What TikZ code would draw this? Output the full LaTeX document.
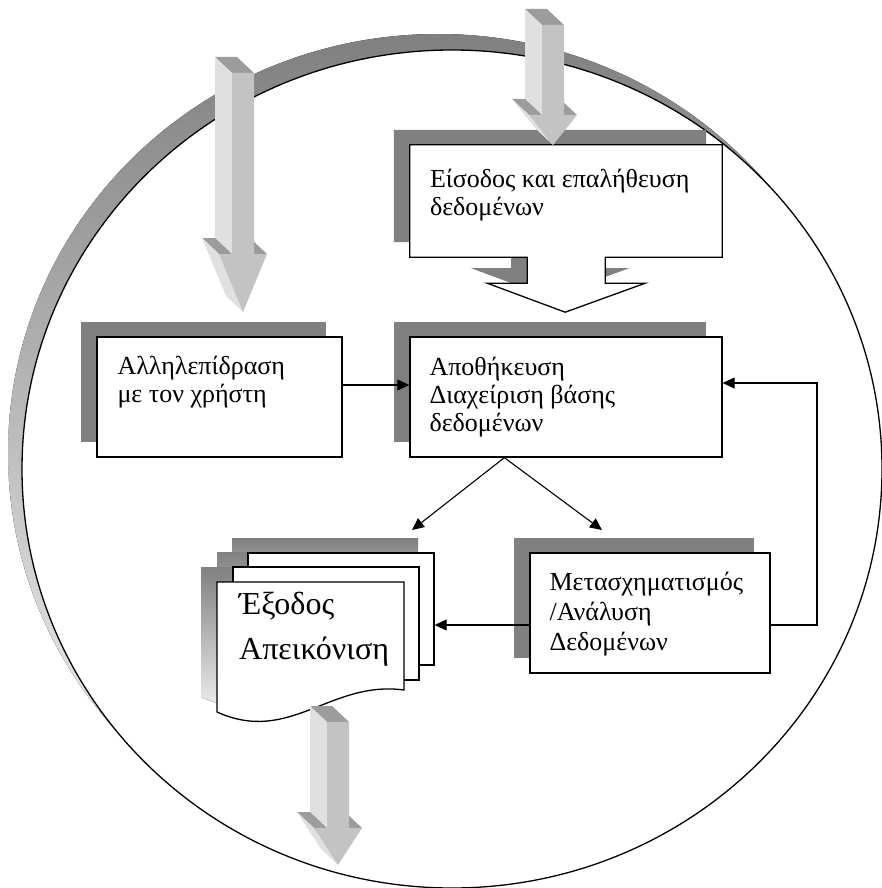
\documentclass[tikz,border=0pt]{standalone}
\usepackage{fontspec}
\setmainfont{Liberation Serif}
\usetikzlibrary{arrows.meta,positioning,calc,shadows}

\definecolor{shade}{HTML}{808080}
\definecolor{bartop}{HTML}{9C9C9C}
\definecolor{barside}{HTML}{E0E0E0}
\definecolor{barfront}{HTML}{C3C3C3}

% 3D block arrow: shaft left x, top y, neck y, tip y
\newcommand{\blockarrow}[4]{%
\fill[bartop] (#1-17,#2-16) -- (#1+5,#2-16) -- (#1+22,#2) -- (#1,#2) -- cycle;
\fill[barside] (#1-17,#2-16) -- (#1,#2) -- (#1,#3) -- (#1-17,#3-16) -- cycle;
\fill[bartop] (#1-30,#3-16) -- (#1-17,#3-16) -- (#1,#3) -- (#1-13,#3) -- cycle;
\fill[bartop] (#1+5,#3-16) -- (#1+18,#3-16) -- (#1+35,#3) -- (#1+22,#3) -- cycle;
\fill[barside] (#1-30,#3-16) -- (#1-13,#3) -- (#1+11,#4) -- (#1-6,#4-16) -- cycle;
\fill[barfront] (#1,#2) -- (#1+22,#2) -- (#1+22,#3) -- (#1+35,#3) -- (#1+11,#4) -- (#1-13,#3) -- (#1,#3) -- cycle;
}

\begin{document}
\begin{tikzpicture}[x=1pt,y=-1pt,>={Triangle[length=12pt,width=11pt]},
  frame/.style={inner sep=0pt},
  box/.style={draw,fill=white,line width=1.3pt,inner sep=0pt,drop shadow={shadow xshift=-16pt,shadow yshift=15pt,opacity=1,fill=shade}},
  page/.style={draw,fill=white,line width=1.3pt,inner sep=0pt},
  txt/.style={anchor=north west,align=left,inner sep=0pt,font=\fontsize{26}{28}\selectfont},
  link/.style={->,line width=1.1pt}]
\useasboundingbox (0,0) rectangle (881,888);
% outer circle with shadow
\fill[shade] (438,453) ellipse [x radius=430pt,y radius=419pt];
\draw[line width=1.3pt,fill=white] (452,469) ellipse [x radius=430pt,y radius=419pt];

% input box with arrow
\node[frame,minimum width=312pt,minimum height=112pt] (input) at (566,201) {};
\draw[line width=1.3pt,fill=white,drop shadow={shadow xshift=-16pt,shadow yshift=15pt,opacity=1,fill=shade}]
  (input.north west) -- (input.north east) -- (input.south east) -- ++(-117,0) -- ++(0,26) -- ++(40,0)
  -- ++(-80,29) -- ++(-78,-29) -- ++(40,0) -- ++(0,-26) -- (input.south west) -- cycle;
\node[txt] (inputtxt) at ([shift={(20,24)}]input.north west) {Είσοδος και επαλήθευση\\δεδομένων};

\node[box,minimum width=245pt,minimum height=120pt] (interact) at (219.5,397) {};
\node[txt] (interacttxt) at ([shift={(21,20)}]interact.north west) {Αλληλεπίδραση\\με τον χρήστη};

\node[box,minimum width=312pt,minimum height=120pt] (store) at (566,397) {};
\node[txt] (storetxt) at ([shift={(20,21)}]store.north west) {Αποθήκευση\\Διαχείριση βάσης\\δεδομένων};

\node[box,minimum width=240pt,minimum height=120pt] (transform) at (650,613) {};
\node[txt,font=\fontsize{26}{30}\selectfont] (transformtxt) at ([shift={(20,20)}]transform.north west) {Μετασχηματισμός\\/Ανάλυση\\Δεδομένων};

% output document stack
\begin{scope}[shift={(-16,-15)}]
\fill[shade] (248,553) rectangle (434,665);
\fill[shade] (233,567) rectangle (419,680);
\fill[shade] (217,582) -- (404,582) -- (404,690) .. controls (330,680) and (290,745) .. (217,712) -- cycle;
\end{scope}
\node[page,minimum width=186pt,minimum height=112pt] (page3) at (341,609) {};
\node[page,minimum width=186pt,minimum height=113pt] (page2) at (326,623.5) {};
\draw[line width=1.3pt,fill=white] (217,582) -- (404,582) -- (404,690) .. controls (330,680) and (290,745) .. (217,712) -- cycle;
\node[txt,font=\fontsize{32}{45}\selectfont] (output) at (239,592) {Έξοδος\\Απεικόνιση};

% connectors
\draw[link] ([yshift=12pt]interact.east) -- ([yshift=12pt]store.west);
\coordinate (loop) at (817,500);
\draw[link] ([yshift=-12pt]transform.east) -| (loop) |- ([yshift=14pt]store.east);
\coordinate (feed) at ([yshift=-12pt]transform.west);
\draw[link] (feed) -- (feed -| page3.east);
\coordinate (fork) at ([xshift=95pt]store.south west);
\coordinate (toout) at (412,530);
\coordinate (totrans) at (602,530);
\draw[link] (fork) -- (toout);
\draw[link] (fork) -- (totrans);

% block arrows
\blockarrow{232}{73}{254}{312}
\blockarrow{542}{25}{115}{145}
\blockarrow{327}{722}{828}{865}
\end{tikzpicture}
\end{document}
